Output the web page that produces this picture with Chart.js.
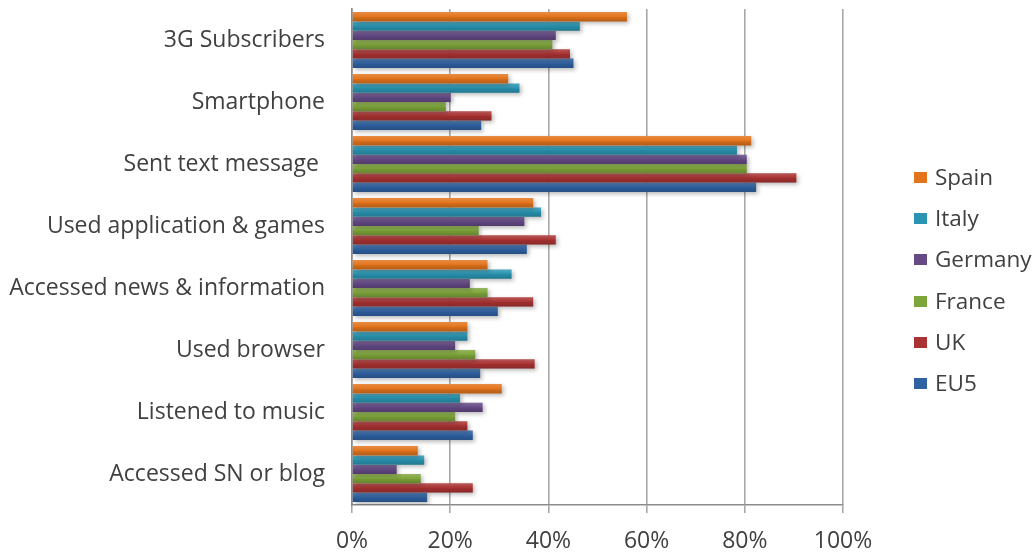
<!DOCTYPE html>
<html>
<head>
<meta charset="utf-8">
<script src="https://cdn.jsdelivr.net/npm/chart.js@4"></script>
<style>
  body { margin: 0; background: #fff; }
  #wrap { position: relative; width: 1036px; height: 552px; }
  #legend { position: absolute; left: 914px; top: 0; font: 22.5px "Open Sans", sans-serif; color: #404040; }
  #legend div { position: absolute; white-space: nowrap; line-height: 26px; }
  #legend span { position: absolute; left: 0; top: 8px; width: 13px; height: 11px; }
  #legend b { font-weight: normal; position: absolute; left: 21px; top: 0; }
</style>
</head>
<body>
<div id="wrap">
  <canvas id="myChart" width="1036" height="552"></canvas>
  <div id="legend"></div>
</div>
<script>
const categories = [
  '3G Subscribers', 'Smartphone', 'Sent text message ', 'Used application & games',
  'Accessed news & information', 'Used browser', 'Listened to music', 'Accessed SN or blog'
];
// values in %
const spain   = [56.0, 31.8, 81.3, 36.9, 27.6, 23.5, 30.5, 13.4];
const italy   = [46.4, 34.1, 78.4, 38.5, 32.5, 23.5, 22.0, 14.7];
const germany = [41.5, 20.1, 80.4, 35.1, 24.0, 21.0, 26.6, 9.1];
const france  = [40.8, 19.1, 80.4, 25.8, 27.6, 25.1, 21.0, 14.0];
const uk      = [44.4, 28.4, 90.5, 41.5, 36.9, 37.2, 23.5, 24.6];
const eu5     = [45.1, 26.3, 82.3, 35.6, 29.7, 26.1, 24.6, 15.3];
const xTicks  = [0, 20, 40, 60, 80, 100];

const seriesNames = ['Spain', 'Italy', 'Germany', 'France', 'UK', 'EU5'];
const seriesData = [spain, italy, germany, france, uk, eu5];
const colors = ['#E3741C', '#2A95B2', '#654A86', '#7EA53A', '#A93232', '#2F62A3'];

const font = { family: '"Open Sans", sans-serif', size: 23 };

// soft drop shadow under the bars + light/dark shading like the office chart
const barLook = {
  id: 'barLook',
  beforeDatasetsDraw(chart) {
    const ctx = chart.ctx;
    ctx.save();
    ctx.shadowColor = 'rgba(0,0,0,0.28)';
    ctx.shadowBlur = 4;
    ctx.shadowOffsetX = 2;
    ctx.shadowOffsetY = 2;
  },
  afterDatasetsDraw(chart) {
    const ctx = chart.ctx;
    ctx.restore();
    ctx.save();
    chart.data.datasets.forEach((ds, i) => {
      chart.getDatasetMeta(i).data.forEach(el => {
        const p = el.getProps(['x', 'y', 'base', 'height'], true);
        const top = p.y - p.height / 2;
        const g = ctx.createLinearGradient(0, top, 0, top + p.height);
        g.addColorStop(0, 'rgba(255,255,255,0.18)');
        g.addColorStop(0.45, 'rgba(255,255,255,0.02)');
        g.addColorStop(0.55, 'rgba(0,0,0,0.06)');
        g.addColorStop(1, 'rgba(0,0,0,0.2)');
        ctx.fillStyle = g;
        ctx.fillRect(p.base, top, p.x - p.base, p.height);
      });
    });
    ctx.restore();
  }
};

const data = {
  labels: categories,
  datasets: seriesNames.map((name, i) => ({
    label: name,
    data: seriesData[i],
    backgroundColor: colors[i],
    borderWidth: 0
  }))
};

const config = {
  type: 'bar',
  data: data,
  options: {
    indexAxis: 'y',
    responsive: false,
    animation: false,
    layout: { padding: { left: 0, top: 9, right: 193, bottom: 0 } },
    datasets: { bar: { categoryPercentage: 0.9, barPercentage: 1 } },
    plugins: { legend: { display: false }, tooltip: { enabled: false } },
    scales: {
      x: {
        min: 0,
        max: 100,
        afterBuildTicks: axis => { axis.ticks = xTicks.map(v => ({ value: v })); },
        afterFit: axis => { axis.height = 47; axis.paddingLeft = 0; axis.paddingRight = 0; },
        ticks: { callback: v => v + '%', color: '#404040', font: font, padding: 15, maxRotation: 0 },
        grid: { color: '#a8a8a8', lineWidth: 1.6, tickLength: 8 },
        border: { color: '#8c8c8c', width: 1.6 }
      },
      y: {
        afterFit: axis => { axis.width = 352; axis.paddingTop = 0; axis.paddingBottom = 0; },
        ticks: { color: '#404040', font: font, padding: 27 },
        grid: { display: false, drawTicks: false },
        border: { color: '#8c8c8c', width: 1.6 }
      }
    }
  },
  plugins: [barLook]
};

const myChart = new Chart(document.getElementById('myChart'), config);

// legend on the right
const legend = document.getElementById('legend');
seriesNames.forEach((name, i) => {
  const row = document.createElement('div');
  row.style.top = (164 + i * 41.2) + 'px';
  row.innerHTML = '<span style="background:' + colors[i] + '"></span><b>' + name + '</b>';
  legend.appendChild(row);
});
</script>
</body>
</html>
